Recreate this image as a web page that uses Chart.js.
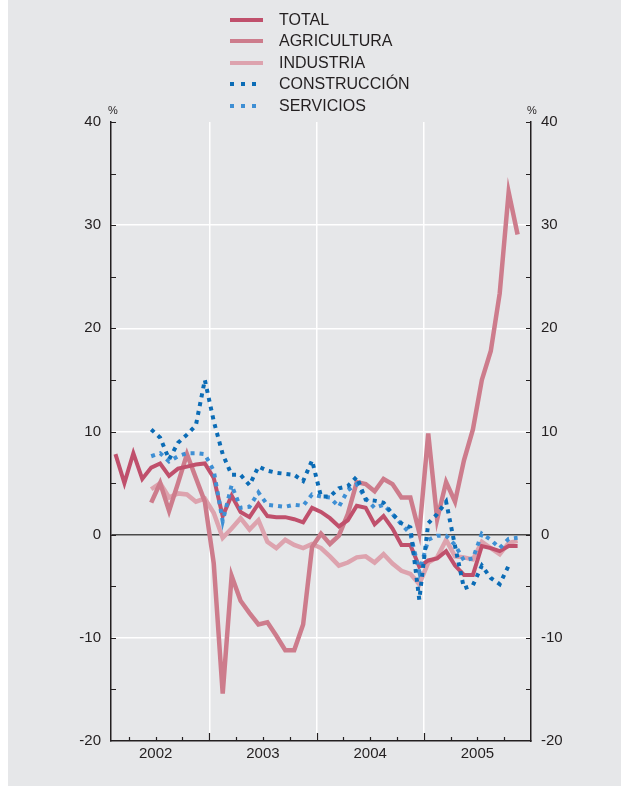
<!DOCTYPE html>
<html>
<head>
<meta charset="utf-8">
<script src="https://cdn.jsdelivr.net/npm/chart.js@4/dist/chart.umd.min.js"></script>
<style>
html,body{margin:0;padding:0;background:#ffffff;}
#wrap{position:relative;width:627px;height:792px;overflow:hidden;}
#panel{position:absolute;left:8px;top:0;width:613px;height:786px;background:#e6e7e9;}
#c{position:absolute;left:0;top:0;}
.legrow{position:absolute;left:230px;height:20px;font-family:"Liberation Sans",Arial,sans-serif;font-size:16px;color:#231f20;line-height:20px;}
.legrow .txt{position:absolute;left:49px;top:0;white-space:nowrap;}
.legrow .smp{position:absolute;left:0;top:8px;width:33px;height:4px;}
.pct{position:absolute;top:104px;font-family:"Liberation Sans",Arial,sans-serif;font-size:11px;color:#231f20;}
</style>
</head>
<body>
<div id="wrap">
  <div id="panel"></div>
  <canvas id="c" width="627" height="792"></canvas>
  <div id="legend"></div>
  <div class="pct" style="left:108px;">%</div>
  <div class="pct" style="left:527px;">%</div>
</div>
<script>
// ---- data (monthly, Feb 2002 - Nov 2005) ----
const months = ['2002-02','2002-03','2002-04','2002-05','2002-06','2002-07','2002-08','2002-09','2002-10','2002-11','2002-12',
  '2003-01','2003-02','2003-03','2003-04','2003-05','2003-06','2003-07','2003-08','2003-09','2003-10','2003-11','2003-12',
  '2004-01','2004-02','2004-03','2004-04','2004-05','2004-06','2004-07','2004-08','2004-09','2004-10','2004-11','2004-12',
  '2005-01','2005-02','2005-03','2005-04','2005-05','2005-06','2005-07','2005-08','2005-09','2005-10','2005-11'];

const total = [7.8,5.0,7.9,5.4, 6.5,6.9,5.7,6.4,6.6,6.8,6.9,
  5.5,1.8,3.8,2.2,1.7,3.0,1.8,1.7,1.7,1.5,1.2,2.6,
  2.2,1.6,0.8,1.4,2.8,2.6,1.0,1.8,0.6,-1.0,-1.0,-3.1,
  -2.5,-2.3,-1.6,-3.0,-3.9,-3.9,-1.1,-1.3,-1.6,-1.1,-1.1];

const agricultura = [null,null,null,null, 3.1,5.0,2.3,5.0,7.8,5.5,3.2,
  -2.8,-15.4,-4.0,-6.4,-7.6,-8.7,-8.5,-9.8,-11.2,-11.2,-8.7,-1.2,
  0.1,-0.9,-0.1,2.0,5.1,4.9,4.2,5.4,4.9,3.6,3.6,0.2,
  9.8,1.5,5.1,3.2,7.2,10.2,15.0,17.8,23.4,33.2,29.1];

const industria = [null,null,null,null, 4.4,5.0,3.6,4.0,3.9,3.2,3.5,
  2.1,-0.3,0.6,1.6,0.5,1.4,-0.7,-1.3,-0.5,-1.0,-1.3,-0.9,
  -1.3,-2.1,-3.0,-2.7,-2.2,-2.1,-2.7,-1.9,-2.8,-3.5,-3.8,-4.8,
  -2.7,-2.2,-0.5,-2.1,-2.2,-2.4,-0.7,-1.3,-1.9,-0.8,-0.6];

const construccion = [null,null,null,null, 10.2,9.4,7.3,8.9,9.7,10.6,15.0,
  11.0,7.8,5.8,5.8,4.8,6.6,6.2,6.0,5.9,5.8,5.2,7.2,
  3.7,3.7,4.5,4.7,5.6,3.4,3.3,3.1,2.0,1.1,0.7,-6.3,
  1.1,2.0,3.2,-1.1,-5.2,-4.9,-3.0,-4.2,-4.8,-3.0,null];

const servicios = [null,null,null,null, 7.6,7.9,7.1,7.6,7.9,7.9,7.8,
  6.2,1.3,4.8,2.6,2.7,4.1,2.9,2.8,2.7,2.9,2.8,3.9,
  3.7,3.6,2.7,4.3,4.9,3.5,2.6,2.9,2.0,1.0,0.1,-3.6,
  -0.5,-0.1,-0.1,-1.0,-2.5,-2.3,0.1,-0.5,-1.3,-0.4,-0.3];

const seriesNames = ['TOTAL','AGRICULTURA','INDUSTRIA','CONSTRUCCIÓN','SERVICIOS'];
const yearLabels = ['2002','2003','2004','2005'];
const yTickLabels = ['-20','-10','0','10','20','30','40'];

// ---- helpers ----
const BASE_YEAR = 2002;
function monthToX(m){ const [y,mo] = m.split('-').map(Number); return (y-BASE_YEAR)*12 + (mo-1) + 0.5; }
function pts(arr){ return months.map((m,i)=>({x:monthToX(m), y:arr[i]})); }

const colors = {
  total:'#c0506c', agri:'#cd7c8c', ind:'#dda3ae', cons:'#0b6cb6', serv:'#3e8fd4'
};

// ---- legend (HTML text) ----
const legendDefs = [
  {name:seriesNames[0], color:colors.total, dotted:false},
  {name:seriesNames[1], color:colors.agri, dotted:false},
  {name:seriesNames[2], color:colors.ind, dotted:false},
  {name:seriesNames[3], color:colors.cons, dotted:true},
  {name:seriesNames[4], color:colors.serv, dotted:true}
];
const legEl = document.getElementById('legend');
legendDefs.forEach((d,i)=>{
  const row = document.createElement('div');
  row.className = 'legrow';
  row.style.top = (9.5 + i*21.6) + 'px';
  const s = document.createElement('div');
  s.className = 'smp';
  if (d.dotted) {
    s.style.background = `repeating-linear-gradient(90deg, ${d.color} 0px, ${d.color} 4px, transparent 4px, transparent 11px)`;
    s.style.width = '26px';
  } else {
    s.style.background = d.color;
  }
  const t = document.createElement('div');
  t.className = 'txt';
  t.textContent = d.name;
  row.appendChild(s); row.appendChild(t);
  legEl.appendChild(row);
});

// ---- inward tick marks plugin ----
const inTicks = {
  id:'inTicks',
  afterDraw(chart){
    const ctx = chart.ctx, a = chart.chartArea;
    const xs = chart.scales.x, yl = chart.scales.y;
    ctx.save();
    ctx.strokeStyle = '#231f20';
    ctx.lineWidth = 1.2;
    ctx.beginPath();
    xs.ticks.forEach(t=>{
      if (t.value <= xs.min || t.value >= xs.max) return;
      const px = Math.round(xs.getPixelForValue(t.value)) + 0.5;
      const len = (t.value % 12 === 0) ? 8 : 4;
      ctx.moveTo(px, a.bottom); ctx.lineTo(px, a.bottom - len);
    });
    yl.ticks.forEach(t=>{
      if (t.value <= yl.min) return;
      const py = Math.round(yl.getPixelForValue(t.value)) + 0.5;
      ctx.moveTo(a.left, py); ctx.lineTo(a.left + 5, py);
      ctx.moveTo(a.right, py); ctx.lineTo(a.right - 5, py);
    });
    ctx.stroke();
    ctx.restore();
  }
};

const tickFont = {family:'"Liberation Sans", Arial, sans-serif', size:15};
const lineDs = (label, data, color, width, order) => ({
  label, data:pts(data), borderColor:color, borderWidth:width, pointRadius:0,
  tension:0, fill:false, spanGaps:false, order, borderJoinStyle:'miter', borderCapStyle:'butt'
});
const dotDs = (label, data, color, order) => ({
  label, data:pts(data), borderColor:color, borderWidth:4, pointRadius:0,
  tension:0, fill:false, spanGaps:false, order, borderDash:[4,5], borderJoinStyle:'miter', borderCapStyle:'butt'
});

new Chart(document.getElementById('c'), {
  type:'line',
  data:{
    datasets:[
      dotDs(seriesNames[3], construccion, colors.cons, 0),
      dotDs(seriesNames[4], servicios, colors.serv, 1),
      lineDs(seriesNames[0], total, colors.total, 4, 2),
      lineDs(seriesNames[1], agricultura, colors.agri, 4.5, 3),
      lineDs(seriesNames[2], industria, colors.ind, 4.5, 4)
    ]
  },
  options:{
    responsive:false,
    animation:false,
    devicePixelRatio:1,
    layout:{padding:{top:122,left:0,right:0,bottom:0}},
    plugins:{legend:{display:false}, tooltip:{enabled:false}},
    scales:{
      x:{
        type:'linear', min:1, max:48,
        afterBuildTicks(scale){
          const t = [];
          for (let v = 3; v <= 45; v += 3) t.push({value:v});
          scale.ticks = t;
        },
        afterFit(scale){ scale.height = 51; },
        grid:{
          drawTicks:false,
          color:(c)=> (c.tick && c.tick.value % 12 === 0) ? '#ffffff' : 'rgba(0,0,0,0)',
          lineWidth:1.5
        },
        border:{display:true, color:'#231f20', width:1.5},
        ticks:{
          autoSkip:false, maxRotation:0, padding:4, color:'#231f20', font:tickFont,
          callback:(v)=>{ const i = (v - 6) / 12; return (Number.isInteger(i) && yearLabels[i]) ? yearLabels[i] : ''; }
        }
      },
      y:{
        type:'linear', position:'left', min:-20, max:40,
        afterFit(scale){ scale.width = 111; },
        grid:{
          drawTicks:false,
          color:(c)=>{ const v = c.tick ? c.tick.value : NaN; if (v === 0) return '#4a4a4a'; if (v % 10 === 0 && v > -20 && v < 40) return '#ffffff'; return 'rgba(0,0,0,0)'; },
          lineWidth:(c)=> (c.tick && c.tick.value === 0) ? 1.6 : 1.5
        },
        border:{display:true, color:'#231f20', width:1.5},
        ticks:{
          stepSize:5, padding:10, color:'#231f20', font:tickFont, autoSkip:false,
          callback:(v)=> (v % 10 === 0) ? yTickLabels[(v + 20) / 10] : ''
        }
      },
      y2:{
        type:'linear', position:'right', min:-20, max:40,
        afterFit(scale){ scale.width = 96; },
        grid:{drawOnChartArea:false, drawTicks:false},
        border:{display:true, color:'#231f20', width:1.5},
        ticks:{
          stepSize:5, padding:10, color:'#231f20', font:tickFont, autoSkip:false,
          callback:(v)=> (v % 10 === 0) ? yTickLabels[(v + 20) / 10] : ''
        }
      }
    }
  },
  plugins:[inTicks]
});
</script>
</body>
</html>
